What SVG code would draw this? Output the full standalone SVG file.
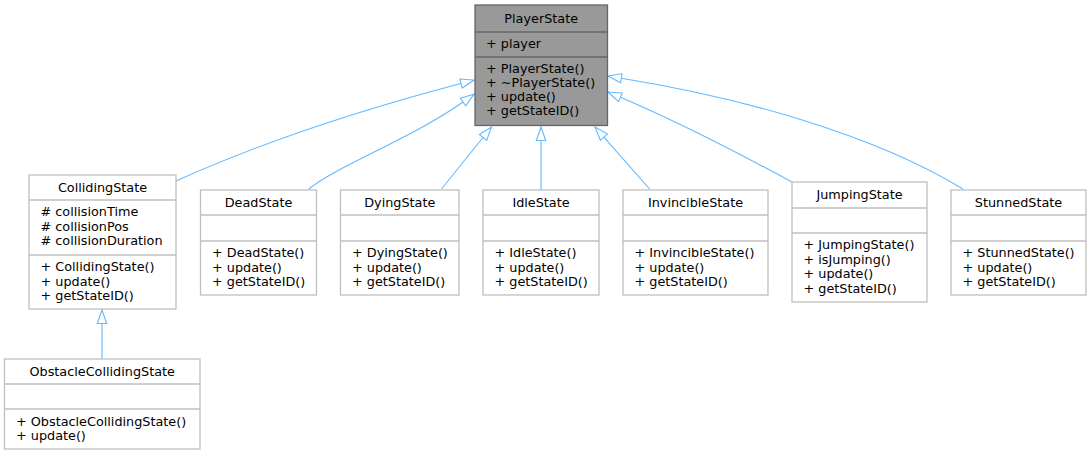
<svg xmlns="http://www.w3.org/2000/svg" width="1091" height="456" viewBox="0 0 1091 456">
<style>
text{font-family:"DejaVu Sans","Liberation Sans",sans-serif;font-size:12.8px;fill:#000}
.t{text-anchor:middle}
.box{fill:#fff;stroke:#bfbfbf;stroke-width:1.3}
.sep{stroke:#bfbfbf;stroke-width:1.3}
.base{fill:#999;stroke:#666;stroke-width:1.3}
.bsep{stroke:#666;stroke-width:1.3}
.e{fill:none;stroke:#63b8ff;stroke-width:1.1;marker-end:url(#inh)}
</style>
<defs>
<marker id="inh" markerUnits="userSpaceOnUse" viewBox="0 0 14 10" markerWidth="14" markerHeight="10" refX="0" refY="5" orient="auto" overflow="visible">
<path d="M0,0.3 L13.5,5 L0,9.7 Z" fill="#fff" stroke="#63b8ff" stroke-width="1.1"/>
</marker>
</defs>
<g id="connectors">
<path class="e" d="M176,181 C256,145 345,114 461,83.5"/>
<path class="e" d="M309,189 C335,167 414,137 463,102"/>
<path class="e" d="M441.5,189 L483,137.5"/>
<path class="e" d="M541,190 L541,140.5"/>
<path class="e" d="M650,189.5 L603.9,137.2"/>
<path class="e" d="M792,182 C742,155 675.6,120.7 620.4,97.3"/>
<path class="e" d="M963,189 C873,134 740,97.4 621.3,78.2"/>
<path class="e" d="M102,359 L102,323.5"/>
</g>
<g id="PlayerState">
<rect class="base" x="475" y="5" width="132.5" height="120.5"/>
<line class="bsep" x1="475" y1="32" x2="607.5" y2="32"/>
<line class="bsep" x1="475" y1="57" x2="607.5" y2="57"/>
<text class="t" x="541.2" y="22.5">PlayerState</text>
<text x="486" y="48">+ player</text>
<text x="486" y="73">+ PlayerState()</text>
<text x="486" y="87">+ ~PlayerState()</text>
<text x="486" y="101">+ update()</text>
<text x="486" y="115">+ getStateID()</text>
</g>
<g id="CollidingState">
<rect class="box" x="29" y="175" width="147" height="134"/>
<line class="sep" x1="29" y1="200" x2="176" y2="200"/>
<line class="sep" x1="29" y1="255" x2="176" y2="255"/>
<text class="t" x="102.5" y="192">CollidingState</text>
<text x="40.5" y="216">#  collisionTime</text>
<text x="40.5" y="230.5">#  collisionPos</text>
<text x="40.5" y="245">#  collisionDuration</text>
<text x="40.5" y="271">+ CollidingState()</text>
<text x="40.5" y="285.5">+ update()</text>
<text x="40.5" y="300">+ getStateID()</text>
</g>
<g id="DeadState">
<rect class="box" x="200.5" y="190" width="116" height="105"/>
<line class="sep" x1="200.5" y1="215" x2="316.5" y2="215"/>
<line class="sep" x1="200.5" y1="241" x2="316.5" y2="241"/>
<text class="t" x="258.5" y="207">DeadState</text>
<text x="212" y="257">+ DeadState()</text>
<text x="212" y="271.5">+ update()</text>
<text x="212" y="286">+ getStateID()</text>
</g>
<g id="DyingState">
<rect class="box" x="340.5" y="190" width="118.5" height="105"/>
<line class="sep" x1="340.5" y1="215" x2="459" y2="215"/>
<line class="sep" x1="340.5" y1="241" x2="459" y2="241"/>
<text class="t" x="399.8" y="207">DyingState</text>
<text x="352" y="257">+ DyingState()</text>
<text x="352" y="271.5">+ update()</text>
<text x="352" y="286">+ getStateID()</text>
</g>
<g id="IdleState">
<rect class="box" x="483" y="190" width="116" height="105"/>
<line class="sep" x1="483" y1="215" x2="599" y2="215"/>
<line class="sep" x1="483" y1="241" x2="599" y2="241"/>
<text class="t" x="541" y="207">IdleState</text>
<text x="494.5" y="257">+ IdleState()</text>
<text x="494.5" y="271.5">+ update()</text>
<text x="494.5" y="286">+ getStateID()</text>
</g>
<g id="InvincibleState">
<rect class="box" x="623" y="190" width="145" height="105"/>
<line class="sep" x1="623" y1="215" x2="768" y2="215"/>
<line class="sep" x1="623" y1="241" x2="768" y2="241"/>
<text class="t" x="695.5" y="207">InvincibleState</text>
<text x="634.5" y="257">+ InvincibleState()</text>
<text x="634.5" y="271.5">+ update()</text>
<text x="634.5" y="286">+ getStateID()</text>
</g>
<g id="JumpingState">
<rect class="box" x="792" y="182" width="135" height="120"/>
<line class="sep" x1="792" y1="208" x2="927" y2="208"/>
<line class="sep" x1="792" y1="233" x2="927" y2="233"/>
<text class="t" x="859.5" y="199">JumpingState</text>
<text x="803.5" y="249">+ JumpingState()</text>
<text x="803.5" y="263.5">+ isJumping()</text>
<text x="803.5" y="278">+ update()</text>
<text x="803.5" y="292.5">+ getStateID()</text>
</g>
<g id="StunnedState">
<rect class="box" x="951" y="190" width="135" height="105"/>
<line class="sep" x1="951" y1="215" x2="1086" y2="215"/>
<line class="sep" x1="951" y1="241" x2="1086" y2="241"/>
<text class="t" x="1018.5" y="207">StunnedState</text>
<text x="962.5" y="257">+ StunnedState()</text>
<text x="962.5" y="271.5">+ update()</text>
<text x="962.5" y="286">+ getStateID()</text>
</g>
<g id="ObstacleCollidingState">
<rect class="box" x="4.5" y="359" width="195.5" height="90"/>
<line class="sep" x1="4.5" y1="384" x2="200" y2="384"/>
<line class="sep" x1="4.5" y1="409" x2="200" y2="409"/>
<text class="t" x="102.2" y="376">ObstacleCollidingState</text>
<text x="16" y="425.5">+ ObstacleCollidingState()</text>
<text x="16" y="440">+ update()</text>
</g>
</svg>
